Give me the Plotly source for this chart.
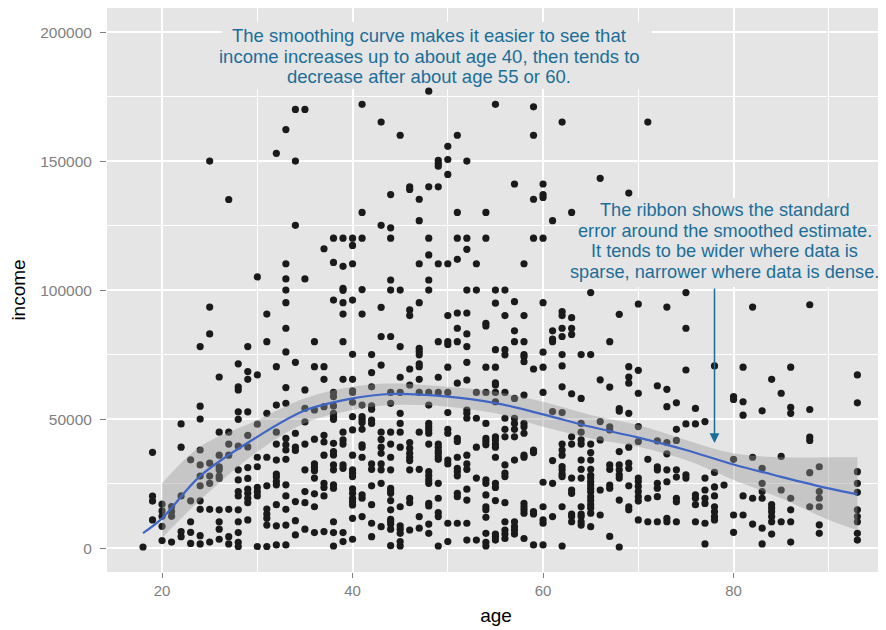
import plotly.graph_objects as go

# ---------------- data (income in thousands, per integer age) ----------------
ages_a = [18, 19, 20, 21, 22, 23, 24, 25, 26, 27, 28, 29]
income_a = [
    [0.5],
    [37.2, 20.2, 18.3, 11.0],
    [17.1, 14.5, 12.4, 8.5, 3.0],
    [16.2, 14.3, 12.4, 2.4],
    [48.2, 39.2, 20.3, 6.5, 4.5],
    [34.3, 18.4, 10.3, 6.2, 1.9],
    [78.2, 55.1, 50.1, 38.1, 32.3, 28.0, 24.2, 18.4, 15.1, 4.9, 1.7],
    [150.1, 93.5, 83.1, 33, 28, 25.2, 15.1, 2.4],
    [66.4, 45, 36.1, 31.6, 30.4, 28, 27.1, 14.9, 10.3, 7.4, 3.5],
    [135.2, 45, 40.4, 36.1, 15.1, 4.5, 1.7],
    [71.5, 62.6, 61.4, 52.9, 50, 39.6, 30.4, 26.5, 22, 20.3, 14.9, 10.3, 6.1, 2.3, 0.7],
    [78.2, 68.5, 65.5, 52.9, 43.8, 39.3, 31.3, 27.1, 22.9, 21.3, 19.4, 17.7, 11],
]
ages_b = [30, 31, 32, 33, 34, 35, 36, 37, 38, 39]
income_b = [
    [105.2, 67.2, 48.1, 35.3, 31.6, 23.6, 21.9, 20.3, 0.7],
    [90.8, 80.1, 52.3, 35.3, 24.2, 15.2, 13.3, 11.6, 9, 0.7],
    [153.1, 70.4, 55.5, 45, 40.4, 34.2, 28.8, 27.6, 25.9, 24.6, 16.9, 8.7, 1.3],
    [162.3, 110.3, 104.4, 100.1, 95.2, 85.3, 76.1, 62.3, 56.2, 42.6, 40.1, 38.1, 34.5, 24.6, 20.3, 15.1, 9, 1.3],
    [170.1, 150.1, 125.2, 72.1, 44.6, 39.2, 37.9, 18.1, 10.7, 5.2],
    [170.1, 104.4, 61.4, 54.2, 49, 40.4, 30.4, 22, 17.7, 7.4],
    [80.1, 70.4, 53.6, 42.3, 32.7, 31.4, 30.1, 27.2, 21.1, 16.1, 6.1],
    [116.1, 70.4, 65.5, 54.9, 43.8, 41.2, 36.1, 25.2, 23.6, 20.3, 6.5],
    [120.2, 110.8, 96.2, 60.4, 58.8, 55.2, 52.3, 51, 50, 40.7, 37.5, 36.2, 32.3, 30.4, 24.6, 23.3, 10.3, 6.1, 0.9],
    [120.2, 109.3, 100.8, 100, 95.2, 90.8, 80.1, 65.5, 45, 42, 40.4, 32.3, 31, 6.1, 2.6],
]
ages_c = [40, 41, 42, 43, 44, 45, 46, 47, 48, 49]
income_c = [
    [120.2, 117.4, 110.3, 96.2, 75.2, 65.5, 61, 60.4, 56.6, 51, 45.9, 36.1, 30.4, 29.1, 27.8, 23, 21.3, 19.4, 18.1, 16.8, 11.6, 3.5],
    [172.1, 130.2, 120.2, 100.3, 90.8, 55.5, 51, 50, 48.8, 46.1, 40.1, 39.2, 35.3, 20.7, 19.4, 12.3],
    [75.1, 68.1, 62.6, 55.2, 53.9, 49.7, 48.4, 32.7, 30.6, 24.2, 16.9, 9.7, 4.5],
    [165.2, 125.2, 93.4, 82.1, 71, 45, 42.2, 39.2, 36.8, 32.7, 30.4, 25.2, 8.4],
    [137.1, 124.2, 120.2, 104, 100.1, 82.1, 60.4, 56.2, 45, 40.4, 35.3, 30.4, 23.2, 22.3, 21.3, 18.5, 14.9, 11.2, 10.3, 9.4, 7.4, 1.0],
    [160.1, 100.1, 78.2, 66.3, 60.4, 52.3, 48.4, 45, 39.2, 16.1, 8.7, 7.4, 5.8, 2.6, 0.9],
    [140.1, 139.1, 92.4, 90.2, 69.5, 63.3, 41, 38.8, 36.8, 35.3, 34, 30.4, 19.4, 17.7, 7.1],
    [135.3, 127, 110.3, 95.2, 77.5, 76.3, 75, 71.5, 70.4, 65.5, 60.4, 45, 30.6, 12.3, 7.8],
    [177.2, 140.1, 120.2, 113.7, 104, 100.1, 60.4, 55.5, 48.4, 47.1, 45.9, 44.6, 40.4, 29.7, 28.1, 26.5, 25.2, 17.4, 16.4, 9.4, 5.8],
    [150.4, 149.1, 148.1, 140.1, 110.3, 80.1, 66.3, 60.4, 40.4, 39.2, 37.8, 36.8, 35.5, 34.5, 25.2, 19.4, 13.8, 12.3, 0.9],
]
ages_d = [50, 51, 52, 53, 54, 55, 56, 57, 58, 59]
income_d = [
    [155.8, 150.7, 144.9, 110.3, 90.2, 80.1, 79, 70.2, 60.4, 52.6, 46.1, 44.6, 34.2, 32.7, 9.7, 2.6],
    [160.1, 130.2, 120.2, 112, 91.2, 85.3, 80.1, 64, 42.6, 41.4, 35.3, 31, 29.7, 28.1, 21.3, 20, 9.7],
    [150.1, 120.2, 115.9, 100.1, 91.2, 83.1, 78.2, 72.1, 65.2, 53.6, 52.3, 50.4, 36.1, 32.7, 30.6, 22.9, 18.7, 9.7, 3.2],
    [110.3, 100.1, 60.4, 50.4, 39.2, 27.2, 3.2],
    [130.2, 120.2, 87.2, 86.2, 70.2, 60.4, 48.4, 42.6, 41.4, 40.1, 26.5, 25.2, 20.7, 16.1, 14.9, 12, 5.8, 2.3, 0.9],
    [172.1, 100.1, 95, 77, 70.2, 64.1, 63.3, 60.4, 56.8, 43.2, 42, 40.4, 39.2, 35.3, 25.2, 23.6, 18.5, 5.5, 4.5, 3.2],
    [100.1, 90.2, 77, 75, 60.4, 50.4, 46.1, 43.2, 32.3, 29.1, 27.8, 17.7, 10.3, 7.1, 5.5, 3.8],
    [141.2, 95.6, 84.3, 80.1, 58.1, 50.4, 48.4, 46.1, 43.2, 34.2, 10.3, 8.4, 7.1, 5.5],
    [110.3, 90.2, 80.1, 75.1, 74.2, 72.3, 59.4, 48.4, 47.1, 44.6, 36.1, 35.3, 17.4, 16.1, 14.9, 13.6, 3.8],
    [171.1, 160.1, 135.3, 120.2, 69.5, 38.1, 37.1, 14.2, 13.3, 1.3],
]
ages_e = [60, 61, 62, 63, 64, 65, 66, 67, 68, 69]
income_e = [
    [141.2, 137.1, 136, 120.2, 95.2, 76, 70.2, 60.4, 25.6, 16.1, 11, 9.7, 1.3],
    [127, 84.3, 81.1, 80.1, 53, 34, 25.2, 12.3],
    [165.2, 91.7, 90.2, 85.3, 82.1, 75.1, 70.7, 62.6, 52.6, 40.4, 38.1, 36.1, 31.7, 30.4, 28.8, 27.8, 16.1, 0.9],
    [130.2, 89.4, 85.3, 82.9, 59.9, 43.2, 40.4, 27.2, 22.6, 21.3, 13.3, 12.3, 10.3],
    [75.1, 58.1, 48.4, 45, 42, 40.4, 34.2, 30.6, 27.2, 16.1, 13.3, 12.3, 10.3, 9],
    [99.1, 75.1, 40.4, 37.1, 34.2, 30.6, 28.3, 27.2, 25.8, 24.5, 23.2, 21.9, 20, 18.5, 16.9, 15.6, 13.6, 8.4],
    [143.4, 65.3, 49.1, 42, 22.6, 12.9],
    [80.1, 62.5, 47.1, 45.9, 32.3, 30.6, 24.5, 23.3, 4.6],
    [90.7, 54.1, 53.2, 37.5, 32.3, 30.4, 28.5, 27.2, 18.7, 0.5],
    [137.7, 70.4, 66.4, 64, 52.3, 39.2, 33, 31, 24.2, 16.1, 14.9],
]
ages_f = [70, 71, 72, 73, 74, 75, 76, 77, 78, 79, 80]
income_f = [
    [94.7, 69, 60.1, 47.2, 41.4, 27.2, 25.9, 24, 22, 20, 18.3, 11],
    [165.2, 34.5, 19.4, 10.3],
    [63, 41.6, 31.6, 30.4, 25.2, 23.3, 20, 10.3],
    [93.5, 61.6, 54.9, 41, 36.6, 30.4, 25.8, 11.6, 10.3],
    [56.4, 46.1, 41.8, 30.4, 27.6, 19.4, 18, 10.3],
    [99.1, 85.3, 69.1, 48.2, 28.5, 27.2],
    [54.2, 48.2, 20.7, 19.4, 16.9, 10.3],
    [49.1, 27.2, 22.6, 19.4, 17.4, 9.7, 1.7],
    [70.7, 29.4, 23.8, 20.3, 16.1, 14.2, 12.3, 11],
    [24.5],
    [58.8, 57.7, 34.5, 12.9, 6.2],
]
ages_g = [81, 82, 83, 84, 85, 86, 88, 89, 93]
income_g = [
    [70.2, 56.8, 51.6, 20.3, 12.9],
    [93.5, 35.3, 19.4, 9.4],
    [53.3, 31, 25.2, 22, 19.4, 7.8, 1.7],
    [65.5, 16.9, 15.6, 14.2, 12.3, 10.3, 5.5],
    [60.1, 35.6, 22.6, 10.3],
    [70.2, 54.6, 52.3, 19.4, 14.9, 10.3, 2.4],
    [94.4, 53.8, 43.1, 41.8, 29.3, 16.1],
    [31.6, 22, 19.4, 16.1, 9.1, 5.8],
    [67.2, 56.4, 29.7, 25.2, 21.7, 14.9, 12.3, 10.3, 5.8, 3.2],
]

# smoothed estimate and standard-error ribbon (thousands)
smooth_age = [18, 20, 24, 30, 35, 40, 44, 50, 55, 60, 65, 70, 75, 80, 85, 90, 93]
smooth_fit = [5.9, 11.6, 28.0, 43.2, 53.4, 58.1, 59.8, 58.8, 56.3, 51.9, 47.1, 42.9, 38.1, 32.5, 27.7, 23.2, 20.9]
ribbon_age = [20, 24, 30, 35, 40, 44, 50, 55, 60, 65, 70, 75, 80, 85, 90, 93]
ribbon_upper = [25.2, 39.4, 49.7, 58.2, 62.6, 63.9, 62.6, 60.7, 56.8, 51.7, 47.8, 42.0, 36.8, 35.3, 35.3, 35.3]
ribbon_lower = [4.0, 18.7, 37.4, 48.5, 53.6, 55.5, 54.9, 52.3, 47.1, 42.6, 39.4, 34.2, 26.5, 19.4, 11.0, 7.1]

# annotation text (one entry per line) and anchor positions in data units
note_smooth_lines = ["The smoothing curve makes it easier to see that",
                     "income increases up to about age 40, then tends to",
                     "decrease after about age 55 or 60."]
note_smooth_x = 48.03
note_smooth_y = [198.6, 190.8, 183.0]          # thousands
note_smooth_box = [26.3, 71.44, 178.0, 204.0]  # x0, x1, y0, y1 (thousands)

note_ribbon_lines = ["The ribbon shows the standard",
                     "error around the smoothed estimate.",
                     "It tends to be wider where data is",
                     "sparse, narrower where data is dense."]
note_ribbon_x = 79.1
note_ribbon_y = [131.1, 123.0, 115.2, 107.1]
note_ribbon_box = [63.78, 93.81, 101.3, 135.8]

arrow_age = 78
arrow_from = 101.3
arrow_to = 40.8

# ---------------- build ----------------
xs, ys = [], []
for ages, incs in [(ages_a, income_a), (ages_b, income_b), (ages_c, income_c),
                   (ages_d, income_d), (ages_e, income_e), (ages_f, income_f),
                   (ages_g, income_g)]:
    for a, vals in zip(ages, incs):
        for v in vals:
            xs.append(a)
            ys.append(v * 1000)

teal = "#1B6E98"
panel = "#E5E5E5"
font_fam = "Liberation Sans, Arial, sans-serif"

fig = go.Figure()
fig.add_trace(go.Scatter(x=xs, y=ys, mode="markers",
                         marker=dict(color="#1a1a1a", size=7.2, line=dict(width=0)),
                         hoverinfo="skip", showlegend=False))
fig.add_trace(go.Scatter(x=ribbon_age, y=[v * 1000 for v in ribbon_lower], mode="lines",
                         line=dict(width=0, shape="spline"), showlegend=False, hoverinfo="skip"))
fig.add_trace(go.Scatter(x=ribbon_age, y=[v * 1000 for v in ribbon_upper], mode="lines",
                         line=dict(width=0, shape="spline"), fill="tonexty",
                         fillcolor="rgba(153,153,153,0.4)", showlegend=False, hoverinfo="skip"))
fig.add_trace(go.Scatter(x=smooth_age, y=[v * 1000 for v in smooth_fit], mode="lines",
                         line=dict(color="#3F66C4", width=2.2, shape="spline"),
                         showlegend=False, hoverinfo="skip"))

for box in (note_smooth_box, note_ribbon_box):
    fig.add_shape(type="rect", xref="x", yref="y", x0=box[0], x1=box[1],
                  y0=box[2] * 1000, y1=box[3] * 1000, fillcolor=panel,
                  line=dict(width=0), layer="between")

for txt, yv in zip(note_smooth_lines, note_smooth_y):
    fig.add_annotation(x=note_smooth_x, y=yv * 1000, xref="x", yref="y", text=txt,
                       showarrow=False, font=dict(size=18.5, color=teal, family=font_fam))
for txt, yv in zip(note_ribbon_lines, note_ribbon_y):
    fig.add_annotation(x=note_ribbon_x, y=yv * 1000, xref="x", yref="y", text=txt,
                       showarrow=False, font=dict(size=18.2, color=teal, family=font_fam))

fig.add_annotation(x=arrow_age, y=arrow_to * 1000, ax=arrow_age, ay=arrow_from * 1000,
                   xref="x", yref="y", axref="x", ayref="y",
                   text="", showarrow=True, arrowhead=2, arrowsize=1.3, arrowwidth=1.5,
                   arrowcolor=teal)

fig.update_layout(
    width=878, height=622,
    margin=dict(l=99, r=1, t=0, b=58),
    paper_bgcolor="white", plot_bgcolor=panel,
    font=dict(family=font_fam),
    xaxis=dict(range=[14.22, 95.9], tick0=0, dtick=20, showgrid=True, gridcolor="white",
               gridwidth=1.6, zeroline=False, ticks="outside", ticklen=5, tickwidth=1.2,
               tickcolor="#7F7F7F", tickfont=dict(size=15, color="#7F7F7F"),
               minor=dict(tick0=0, dtick=10, showgrid=True, gridcolor="white", gridwidth=0.8),
               title=dict(text="age", font=dict(size=19, color="black"), standoff=10)),
    yaxis=dict(range=[-9186, 209420], tick0=0, dtick=50000, tickformat="d", showgrid=True,
               gridcolor="white", gridwidth=1.6, zeroline=False, ticks="outside", ticklen=6,
               tickwidth=1.2, tickcolor="#7F7F7F", tickfont=dict(size=15.5, color="#7F7F7F"),
               ticklabelstandoff=5,
               minor=dict(tick0=0, dtick=25000, showgrid=True, gridcolor="white", gridwidth=0.8),
               title=dict(text="income", font=dict(size=19, color="black"), standoff=12)),
)

fig.write_html("out.html")
